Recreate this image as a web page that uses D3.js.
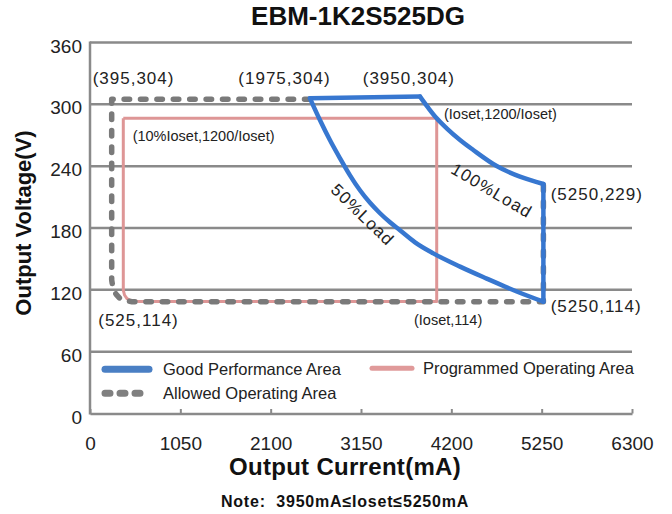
<!DOCTYPE html>
<html>
<head>
<meta charset="utf-8">
<script src="https://cdn.jsdelivr.net/npm/d3@7"></script>
<style>
  body { margin: 0; background: #fff; }
  svg { display: block; font-family: "Liberation Sans", Arial, sans-serif; }
</style>
</head>
<body>
<svg id="chart" width="672" height="514"></svg>
<script>
// axis ticks
const xTicks = [0, 1050, 2100, 3150, 4200, 5250, 6300];
const yTicks = [0, 60, 120, 180, 240, 300, 360];

// good performance area (mA, V)
const goodTop = [[2557, 306], [3836, 307.5]];
const load100 = [[3836, 307.5], [3933, 296.5], [4030, 286.4], [4146, 276.7], [4301, 265.4],
                 [4455, 255.7], [4727, 240.1], [4998, 229.8], [5270, 222.7]];
const goodRight = [[5270, 222.7], [5270, 108.5]];
const load50 = [[2557, 305.8], [2674, 284.5], [2790, 265.1], [2906, 247.6], [3022, 231.1], [3138, 216.6],
                [3255, 204.4], [3371, 194.3], [3487, 185.5], [3603, 177.8], [3778, 166.1], [3990, 155.4],
                [4301, 142.5], [4611, 130.9], [4960, 118.4], [5270, 108.5]];

// allowed operating area (dashed)
const allowed = [[2557, 305], [252, 305], [252, 129.5], [267, 121.7], [302, 115.9], [349, 111.5],
                 [407, 109.4], [488, 108.5], [5270, 108.5], [5270, 222]];

// programmed operating area
const programmed = [[387, 286.4], [4030, 286.4], [4030, 108.8], [561, 108.8], [477, 109.4],
                    [430, 111.4], [401, 115], [387, 119.8], [387, 286.4]];

// point labels: [text, mA, V]
const pointLabels = [
  ["(395,304)", 31, 319.7],
  ["(1975,304)", 1724, 319.7],
  ["(3950,304)", 3170, 320.2],
  ["(5250,229)", 5355, 207.2],
  ["(5250,114)", 5355, 98.5],
  ["(525,114)", 96, 84.9]
];
const smallLabels = [
  ["(Ioset,1200/Ioset)", 4115, 285.8],
  ["(10%Ioset,1200/Ioset)", 496, 264.9],
  ["(Ioset,114)", 3766, 85.4]
];
// curve labels: [text, mA, V, angle]
const curveLabels = [
  ["50%Load", 3167, 192.6, 44],
  ["100%Load", 4669, 216.1, 30.5]
];

const svg = d3.select("#chart");
const x = d3.scaleLinear().domain([0, 6300]).range([90, 632]);
const y = d3.scaleLinear().domain([0, 360]).range([413.5, 42.5]);

const gridColor = "#8a8a8a";
const blue = "#3777d0", pink = "#de9696", grey = "#7a7a7a";

// gridlines
svg.append("g").selectAll("line").data(yTicks.filter(d => d > 0)).join("line")
  .attr("x1", x(0)).attr("x2", x(6300))
  .attr("y1", d => y(d)).attr("y2", d => y(d))
  .attr("stroke", gridColor).attr("stroke-width", 2.5);

// left axis
svg.append("line")
  .attr("x1", x(0)).attr("x2", x(0)).attr("y1", y(0) + 1).attr("y2", y(360) - 1)
  .attr("stroke", gridColor).attr("stroke-width", 2.5);

// bottom axis with inward ticks
const xAxis = d3.axisBottom(x).tickValues(xTicks).tickSizeInner(-4.5).tickSizeOuter(0).tickFormat(d => d);
const gx = svg.append("g").attr("transform", `translate(0,${y(0)})`).call(xAxis);
gx.select(".domain").attr("stroke", gridColor).attr("stroke-width", 2.5);
gx.selectAll(".tick line").attr("stroke", gridColor).attr("stroke-width", 2);
gx.selectAll(".tick text")
  .attr("y", 36).attr("dy", 0)
  .attr("font-size", 19).attr("fill", "#222")
  .attr("font-family", "Liberation Sans, Arial, sans-serif");

// y tick labels
svg.append("g").selectAll("text").data(yTicks).join("text")
  .attr("x", 82).attr("y", d => y(d) + 10)
  .attr("text-anchor", "end").attr("font-size", 19).attr("fill", "#222")
  .text(d => d);

const line = d3.line().x(d => x(d[0])).y(d => y(d[1]));
const smooth = d3.line().x(d => x(d[0])).y(d => y(d[1])).curve(d3.curveMonotoneX);

// programmed area
svg.append("path").attr("d", line(programmed))
  .attr("fill", "none").attr("stroke", pink).attr("stroke-width", 3)
  .attr("stroke-linejoin", "round");

// allowed area (dashed)
svg.append("path").attr("d", line(allowed))
  .attr("fill", "none").attr("stroke", grey).attr("stroke-width", 5.5)
  .attr("stroke-dasharray", "5.5,10.9").attr("stroke-linecap", "round")
  .attr("stroke-linejoin", "round");

// good performance area
[[goodTop, line], [load100, smooth], [goodRight, line], [load50, smooth]].forEach(([pts, gen]) => {
  svg.append("path").attr("d", gen(pts))
    .attr("fill", "none").attr("stroke", blue).attr("stroke-width", 4.5)
    .attr("stroke-linecap", "round").attr("stroke-linejoin", "round");
});

// labels
svg.append("g").selectAll("text").data(pointLabels).join("text")
  .attr("x", d => x(d[1])).attr("y", d => y(d[2]))
  .attr("font-size", 17).attr("letter-spacing", 1).attr("fill", "#222")
  .text(d => d[0]);

svg.append("g").selectAll("text").data(smallLabels).join("text")
  .attr("x", d => x(d[1])).attr("y", d => y(d[2]))
  .attr("font-size", 14.5).attr("fill", "#222")
  .text(d => d[0]);

svg.append("g").selectAll("text").data(curveLabels).join("text")
  .attr("transform", d => `translate(${x(d[1])},${y(d[2])}) rotate(${d[3]})`)
  .attr("text-anchor", "middle").attr("dominant-baseline", "central")
  .attr("font-size", 17).attr("letter-spacing", 1.2).attr("fill", "#222")
  .text(d => d[0]);

// legend
const legend = svg.append("g");
legend.append("line").attr("x1", 105).attr("x2", 149).attr("y1", 369.3).attr("y2", 369.3)
  .attr("stroke", "#4a7fc4").attr("stroke-width", 7).attr("stroke-linecap", "round");
legend.append("text").attr("x", 163).attr("y", 375).attr("font-size", 16.5).attr("fill", "#222")
  .text("Good Performance Area");
legend.append("line").attr("x1", 105).attr("x2", 149).attr("y1", 393.3).attr("y2", 393.3)
  .attr("stroke", "#808080").attr("stroke-width", 7).attr("stroke-linecap", "round")
  .attr("stroke-dasharray", "5,10");
legend.append("text").attr("x", 163).attr("y", 398.5).attr("font-size", 16.5).attr("fill", "#222")
  .text("Allowed Operating Area");
legend.append("line").attr("x1", 372).attr("x2", 412).attr("y1", 368.3).attr("y2", 368.3)
  .attr("stroke", "#e09a9a").attr("stroke-width", 5).attr("stroke-linecap", "round");
legend.append("text").attr("x", 423).attr("y", 373.5).attr("font-size", 16.5).attr("fill", "#222")
  .text("Programmed Operating Area");

// titles
svg.append("text").attr("x", 358).attr("y", 25).attr("text-anchor", "middle")
  .attr("font-size", 26).attr("font-weight", "bold").attr("fill", "#111")
  .text("EBM-1K2S525DG");
svg.append("text").attr("transform", "translate(31,223) rotate(-90)").attr("text-anchor", "middle")
  .attr("font-size", 22).attr("font-weight", "bold").attr("fill", "#111")
  .text("Output Voltage(V)");
svg.append("text").attr("x", 345).attr("y", 475).attr("text-anchor", "middle")
  .attr("font-size", 24).attr("font-weight", "bold").attr("letter-spacing", 0.3).attr("fill", "#111")
  .text("Output Current(mA)");
svg.append("text").attr("x", 345).attr("y", 506.5).attr("text-anchor", "middle")
  .attr("font-size", 16).attr("font-weight", "bold").attr("letter-spacing", 0.8).attr("fill", "#111")
  .style("white-space", "pre")
  .text("Note:  3950mA≤Ioset≤5250mA");
</script>
</body>
</html>
